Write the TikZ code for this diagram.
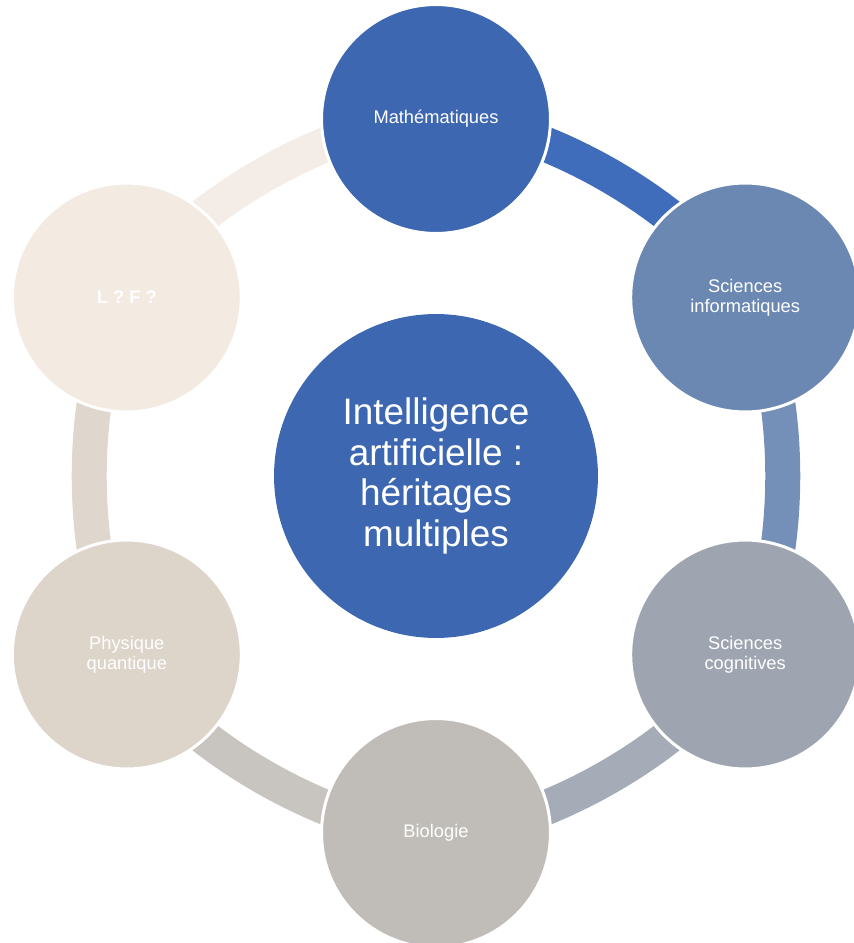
\documentclass[tikz,border=0pt]{standalone}
\usepackage{fontspec}
\setmainfont{Liberation Sans}[Ligatures=NoCommon]
\usetikzlibrary{backgrounds}

\definecolor{mathblue}{HTML}{3D67B1}
\definecolor{infoblue}{HTML}{6B88B2}
\definecolor{cogngray}{HTML}{9EA5B0}
\definecolor{biogray}{HTML}{C0BDB8}
\definecolor{physbeige}{HTML}{DDD4CA}
\definecolor{lfbeige}{HTML}{F3EAE1}

\begin{document}
\begin{tikzpicture}[
    x=0.02cm, y=0.02cm,
    disc/.style={circle, draw=white, line width=0.06cm, minimum size=4.58cm, inner sep=0pt, align=center, text=white, font=\fontsize{10.4}{11.4}\selectfont},
    hub/.style={circle, minimum size=6.48cm, inner sep=0pt, align=center, text=white, font=\fontsize{21}{23}\selectfont},
    band/.style={line width=0.7cm, bend left=30, looseness=0.72}
]
\useasboundingbox (-436,-467) rectangle (417,476);

% Centre
\node[hub, fill=mathblue] (ia) at (0,0) {Intelligence\\artificielle :\\héritages\\multiples};

% Disciplines around the centre
\node[disc, fill=mathblue] (math) at (90:357) {Mathématiques};
\node[disc, fill=infoblue] (info) at (30:357) {Sciences\\informatiques};
\node[disc, fill=cogngray] (cogn) at (-30:357) {Sciences\\cognitives};
\node[disc, fill=biogray] (bio) at (-90:357) {Biologie};
\node[disc, fill=physbeige] (phys) at (-150:357) {Physique\\quantique};
\node[disc, fill=lfbeige] (lf) at (150:357) {\textbf{L ? F ?}};

% Ring segments
\begin{scope}[on background layer]
\draw[band, color={rgb,255:red,63;green,108;blue,187}] (math.center) to (info.center);
\draw[band, color={rgb,255:red,117;green,144;blue,184}] (info.center) to (cogn.center);
\draw[band, color={rgb,255:red,165;green,172;blue,183}] (cogn.center) to (bio.center);
\draw[band, color={rgb,255:red,200;green,197;blue,192}] (bio.center) to (phys.center);
\draw[band, color={rgb,255:red,223;green,214;blue,205}] (phys.center) to (lf.center);
\draw[band, color={rgb,255:red,244;green,237;blue,231}] (lf.center) to (math.center);
\end{scope}

\end{tikzpicture}
\end{document}
